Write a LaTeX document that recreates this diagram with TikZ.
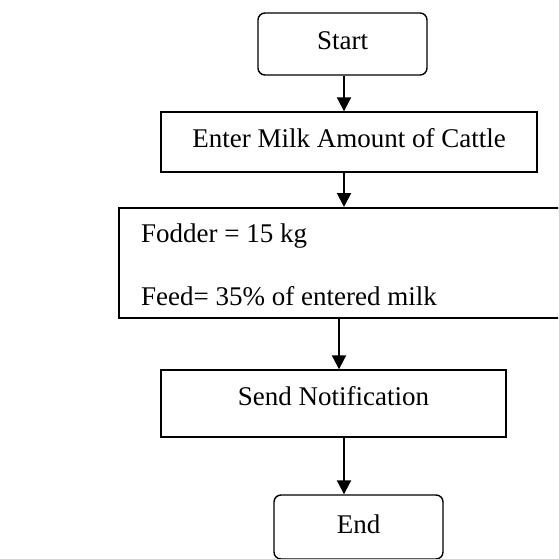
\documentclass[tikz,border=0pt]{standalone}
\usepackage{fontspec}
\setmainfont{Liberation Serif}
\usetikzlibrary{arrows.meta}
\begin{document}
\begin{tikzpicture}[x=1pt,y=-1pt,
  box/.style={draw, line width=1.4pt, inner sep=0pt, align=center, anchor=base},
  rbox/.style={box, rounded corners=7pt},
  txt/.style={inner sep=0pt, anchor=base west},
  arr/.style={line width=2pt, -{Triangle[width=14pt,length=14pt]}},
  every node/.style={font=\fontsize{27}{32}\selectfont}]
\useasboundingbox (0,0) rectangle (558,559);
\clip (0,0) rectangle (558,559);
\node[rbox, minimum width=169pt, text height=37pt, text depth=25pt] (start) at (342.5,50) {Start};
\node[box, minimum width=376pt, text height=35pt, text depth=25pt] (enter) at (349,147) {Enter Milk Amount of Cattle};
\node[draw, line width=1.6pt, inner sep=0pt, anchor=north west, minimum width=560pt, minimum height=110pt] (calc) at (118,207) {};
\node[txt] (fodder) at (141,242) {Fodder = 15 kg};
\node[txt] (feed) at (141,305) {Feed= 35\% of entered milk};
\node[box, minimum width=345pt, text height=35pt, text depth=32pt] (send) at (333.5,405) {Send Notification};
\node[rbox, minimum width=169pt, text height=38pt, text depth=26pt] (end) at (358.5,533) {End};
\coordinate (xa) at (344,0);
\coordinate (xb) at (339,0);
\draw[arr] (start.south -| xa) -- (enter.north -| xa);
\draw[arr] (enter.south -| xa) -- (calc.north -| xa);
\draw[arr] (calc.south -| xb) -- (send.north -| xb);
\draw[arr] (send.south -| xa) -- (end.north -| xa);
\end{tikzpicture}
\end{document}
